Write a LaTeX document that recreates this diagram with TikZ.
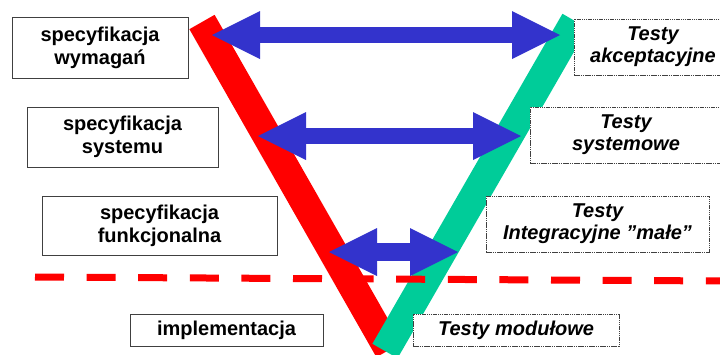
\documentclass[tikz,border=0pt]{standalone}
\usepackage{fontspec}
\setmainfont{Liberation Sans}
\usetikzlibrary{arrows.meta,positioning}

\definecolor{barred}{RGB}{255,0,0}
\definecolor{bargreen}{RGB}{0,204,153}
\definecolor{arrowblue}{RGB}{51,51,204}
\definecolor{boxgray}{RGB}{64,64,64}

\begin{document}
\begin{tikzpicture}[
    x=1bp, y=-1bp,
    spec/.style={draw=boxgray, line width=0.8bp, fill=white, align=center, inner sep=0pt,
      font=\bfseries\fontsize{20bp}{23bp}\selectfont},
    test/.style={spec, draw=boxgray, dash pattern=on 1.5bp off 0.7bp, font=\bfseries\itshape\fontsize{20bp}{22bp}\selectfont},
    vbar/.style={line width=29bp},
    bigtip/.tip={Triangle[length=48bp, width=48bp, line width'=0pt]},
    link/.style={draw=arrowblue, line width=16bp, bigtip-bigtip}
]
\useasboundingbox (0,0) rectangle (720,354);

% ---- the V: red going down, green going up ----
\coordinate (redtop) at (202,22);
\coordinate (redbot) at (389,350);
\coordinate (greentop) at (575,21);
\coordinate (greenbot) at (385,351);
\draw[vbar, barred] (redtop) -- (redbot);
\draw[vbar, bargreen] (greenbot) -- (greentop);

% dashed border above implementation level
\coordinate (cutl) at (35,277);
\coordinate (cutr) at (725,281);
\draw[barred, line width=7bp, dash pattern=on 29bp off 22.6bp] (cutl) -- (cutr);

% ---- specification side ----
\node[spec, minimum width=176bp, minimum height=61bp] (wymagania) at (100,47.5) {specyfikacja\\wymagań};
\node[spec, minimum width=191bp, minimum height=60bp] (systemu) at (122.5,137) {specyfikacja\\systemu};
\node[spec, minimum width=235bp, minimum height=59bp] (funkcjonalna) at (159.5,225.5) {specyfikacja\\funkcjonalna};
\node[spec, minimum width=193bp, minimum height=32bp] (implementacja) at (226.5,330) {implementacja};

% ---- test side ----
\node[test, minimum width=158bp, minimum height=56bp] (akceptacyjne) at (653,47) {Testy\\akceptacyjne};
\node[test, minimum width=192bp, minimum height=56bp] (systemowe) at (626,135) {Testy\\systemowe};
\node[test, minimum width=223bp, minimum height=56bp] (integracyjne) at (597.5,224) {Testy\\Integracyjne ”małe”};
\node[test, minimum width=206bp, minimum height=32bp] (modulowe) at (516,330) {Testy modułowe};

% ---- links between levels ----
\coordinate (wym) at (212,35);
\coordinate (akc) at (560,35);
\coordinate (sys) at (258,136);
\coordinate (sysw) at (521,136);
\coordinate (fun) at (329,252);
\coordinate (integ) at (458,252);

\draw[link] (wym) -- (akc);
\draw[link] (sys) -- (sysw);
\draw[link, line width=18bp] (fun) -- (integ);

\end{tikzpicture}
\end{document}
